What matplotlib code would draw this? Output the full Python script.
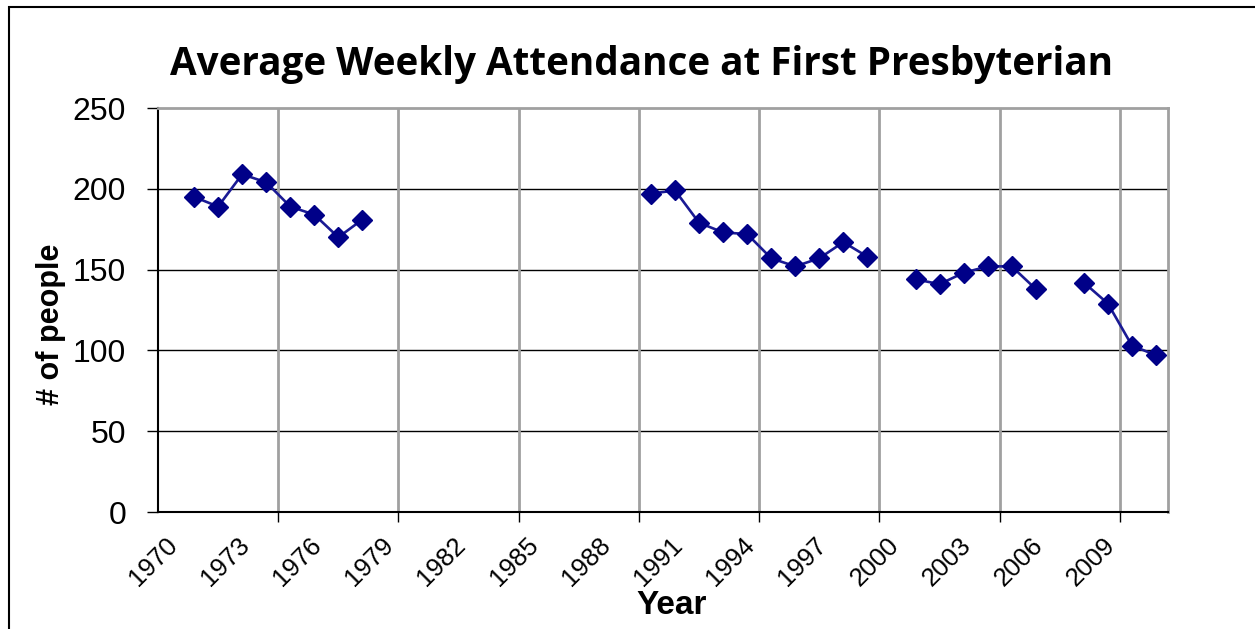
import numpy as np
import matplotlib
matplotlib.use("Agg")
import matplotlib.pyplot as plt
from matplotlib.patches import Rectangle
from matplotlib.transforms import ScaledTranslation

# attendance per year (None = no data)
years = list(range(1970, 2012))
attendance = [None, 195, 189, 209, 204, 189, 184, 170, 181, None,
              None, None, None, None, None, None, None, None, None, None,
              197, 199, 179, 173, 172, 157, 152, 157, 167, 158,
              None, 144, 141, 148, 152, 152, 138, None, 142, 129,
              103, 97]
label_years = list(range(1970, 2010, 3))
grid_years = [1974.5, 1979.5, 1984.5, 1989.5, 1994.5, 1999.5, 2004.5, 2009.5]

y = np.array([np.nan if v is None else v for v in attendance], dtype=float)

fig = plt.figure(figsize=(12.55, 6.29), dpi=100)
ax = fig.add_axes([158/1255, 1 - 512/629, (1168 - 158)/1255, (512 - 108)/629])

# outer chart frame (right/bottom cut off in the original)
fig.patches.append(Rectangle((9/1255, -0.05), 1.2, 1 - 7/629 + 0.05,
                             transform=fig.transFigure, fill=False,
                             edgecolor='black', linewidth=1.5))

ax.plot(years, y, color='#1a1a94', linewidth=1.9, marker='D',
        markersize=10.5, markerfacecolor='#000088', markeredgecolor='#000088')

ax.set_xlim(1969.5, 2011.5)
ax.set_ylim(0, 250)

ax.set_yticks([0, 50, 100, 150, 200, 250])
ax.tick_params(axis='y', labelsize=23, length=8, width=1, direction='out', pad=15)
for v in [50, 100, 150, 200]:
    ax.axhline(v, color='black', linewidth=1, zorder=0)

# labels every 3 years, tick marks / gridlines every 5
ax.set_xticks(grid_years)
ax.set_xticklabels([])
ax.tick_params(axis='x', length=7, width=1, direction='out')
ax.set_xticks(label_years, minor=True)
ax.set_xticklabels([str(v) for v in label_years], minor=True, rotation=45,
                   ha='right', rotation_mode='anchor', fontsize=18.5)
ax.tick_params(axis='x', which='minor', length=0, pad=15)
shift = ScaledTranslation(-5/100, 0, fig.dpi_scale_trans)
for lbl in ax.get_xticklabels(minor=True):
    lbl.set_transform(lbl.get_transform() + shift)
for g in grid_years:
    ax.axvline(g, color='#a0a0a0', linewidth=2, zorder=0)

for lbl in ax.get_xticklabels(minor=True) + ax.get_yticklabels():
    lbl.set_family('Liberation Sans')

ax.spines['left'].set_color('black')
ax.spines['bottom'].set_color('black')
ax.spines['left'].set_linewidth(1.5)
ax.spines['bottom'].set_linewidth(1.5)
ax.spines['top'].set_color('#a0a0a0')
ax.spines['right'].set_color('#a0a0a0')
ax.spines['top'].set_linewidth(2)
ax.spines['right'].set_linewidth(2)

fig.text(642/1255, 1 - 64/629, 'Average Weekly Attendance at First Presbyterian',
         ha='center', va='center', fontsize=27.8, fontweight='bold', family='Open Sans')
fig.text(672/1255, 1 - 605/629, 'Year', ha='center', va='center',
         fontsize=24, fontweight='bold', family='Liberation Sans')
fig.text(51/1255, 1 - 324/629, '# of people', ha='center', va='center',
         rotation=90, fontsize=22, fontweight='bold', family='Liberation Sans')

fig.savefig('out.png', dpi=100)
